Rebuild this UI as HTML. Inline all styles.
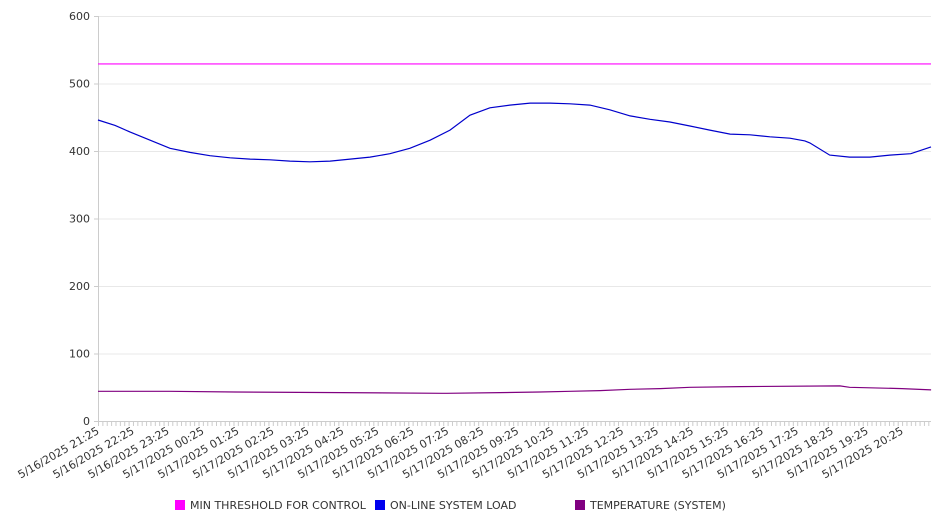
<!DOCTYPE html>
<html><head><meta charset="utf-8"><style>
body{margin:0;background:#fff;font-family:"DejaVu Sans","Liberation Sans",sans-serif;}
svg text{font-family:"DejaVu Sans","Liberation Sans",sans-serif;font-size:11px;fill:#333;}
</style></head><body>
<svg id="chart" width="946" height="526" viewBox="0 0 946 526" xmlns="http://www.w3.org/2000/svg">
<g id="grid"></g>
<g id="axes"></g>
<g id="series"></g>
<g id="legend"></g>
</svg>
<script>
const yTicks=[0,100,200,300,400,500,600];
const xLabels=["5/16/2025 21:25","5/16/2025 22:25","5/16/2025 23:25","5/17/2025 00:25","5/17/2025 01:25","5/17/2025 02:25","5/17/2025 03:25","5/17/2025 04:25","5/17/2025 05:25","5/17/2025 06:25","5/17/2025 07:25","5/17/2025 08:25","5/17/2025 09:25","5/17/2025 10:25","5/17/2025 11:25","5/17/2025 12:25","5/17/2025 13:25","5/17/2025 14:25","5/17/2025 15:25","5/17/2025 16:25","5/17/2025 17:25","5/17/2025 18:25","5/17/2025 19:25","5/17/2025 20:25"];
const loadHours=[0,0.49,0.92,1.49,2.06,2.63,3.2,3.78,4.35,4.92,5.49,6.06,6.64,7.21,7.78,8.35,8.92,9.5,10.07,10.64,11.21,11.78,12.36,12.93,13.5,14.07,14.64,15.22,15.79,16.36,16.93,17.5,18.08,18.65,19.22,19.79,20.22,20.36,20.93,21.5,22.08,22.65,23.25];
const loadValues=[446,438,428,416,404,398,393,390,388,387,385,384,385,388,391,396,404,416,431,453,464,468,471,471,470,468,461,452,447,443,437,431,425,424,421,419,415,412,394,391,391,394,396];
const loadEnd=406;
const tempHours=[0,2.06,3.92,6.98,9.84,9.98,11.5,12.64,13.5,14.36,15.22,16.08,16.93,18.36,21.22,21.5,23.0,23.83];
const tempValues=[44,44,43,42,41,41,42,43,44,45,47,48,50,51,52,50,48,46];
const thresholdValue=529;
const legendNames=["MIN THRESHOLD FOR CONTROL","ON-LINE SYSTEM LOAD","TEMPERATURE (SYSTEM)"];
const legendColors=["#ff00ff","#0000ee","#800080"];

const X0=98,X1=931,Y0=421,Y1=16,HPX=34.96;
const xs=h=>X0+h*HPX;
const ys=v=>Y0-(v/600)*(Y0-Y1);
const NS="http://www.w3.org/2000/svg";
function mk(tag,parent,attrs){const e=document.createElementNS(NS,tag);for(const k in attrs)e.setAttribute(k,attrs[k]);parent.appendChild(e);return e;}
const grid=document.getElementById('grid'),axes=document.getElementById('axes'),series=document.getElementById('series'),legend=document.getElementById('legend');
yTicks.forEach(v=>{
 const l=mk('line',grid,{x1:X0,x2:X1,y1:ys(v)+0.5,y2:ys(v)+0.5,stroke:v===0?'#ccc':'#e8e8e8'});
 
 
 const t=mk('text',axes,{x:90,y:ys(v)+4,'text-anchor':'end'});t.textContent=v;
 
 
 mk('line',axes,{x1:X0-4,x2:X0,y1:ys(v)+0.5,y2:ys(v)+0.5,stroke:'#ccc'});
});
const ya=mk('line',axes,{x1:X0+0.5,x2:X0+0.5,y1:Y1,y2:Y0,stroke:'#ccc'});


for(let x=X0;x<=X1;x+=4.37){mk('line',axes,{x1:x+0.5,x2:x+0.5,y1:Y0,y2:Y0+5,stroke:'#ccc'});}
xLabels.forEach((s,i)=>{
 const x=xs(i);
 const t=mk('text',axes,{x:0,y:0,'text-anchor':'end',transform:`translate(${x+2},${Y0+12}) rotate(-30)`});
 t.textContent=s;
 
 
});
function path(hs,vs,color,name,extra){
 let d=hs.map((h,i)=>(i?'L':'M')+xs(h).toFixed(1)+' '+ys(vs[i]).toFixed(1)).join(' ');
 if(extra!==undefined)d+=' L'+X1+' '+ys(extra).toFixed(1);
 const p=mk('path',series,{d:d,fill:'none',stroke:color,'stroke-width':1.2});
 
 
}
const th=mk('line',series,{x1:X0,x2:X1,y1:ys(thresholdValue),y2:ys(thresholdValue),stroke:'#ff00ff','stroke-width':1.2});


path(loadHours,loadValues,'#0000cc','load-line',loadEnd);
path(tempHours,tempValues,'#800080','temperature-line');
const lx=[175,375,575];
legendNames.forEach((n,i)=>{
 const g=mk('g',legend,{});
 
 
 mk('rect',g,{x:lx[i],y:500,width:10,height:10,fill:legendColors[i]});
 const t=mk('text',g,{x:lx[i]+15,y:509});t.textContent=n;
});
</script>
</body></html>
